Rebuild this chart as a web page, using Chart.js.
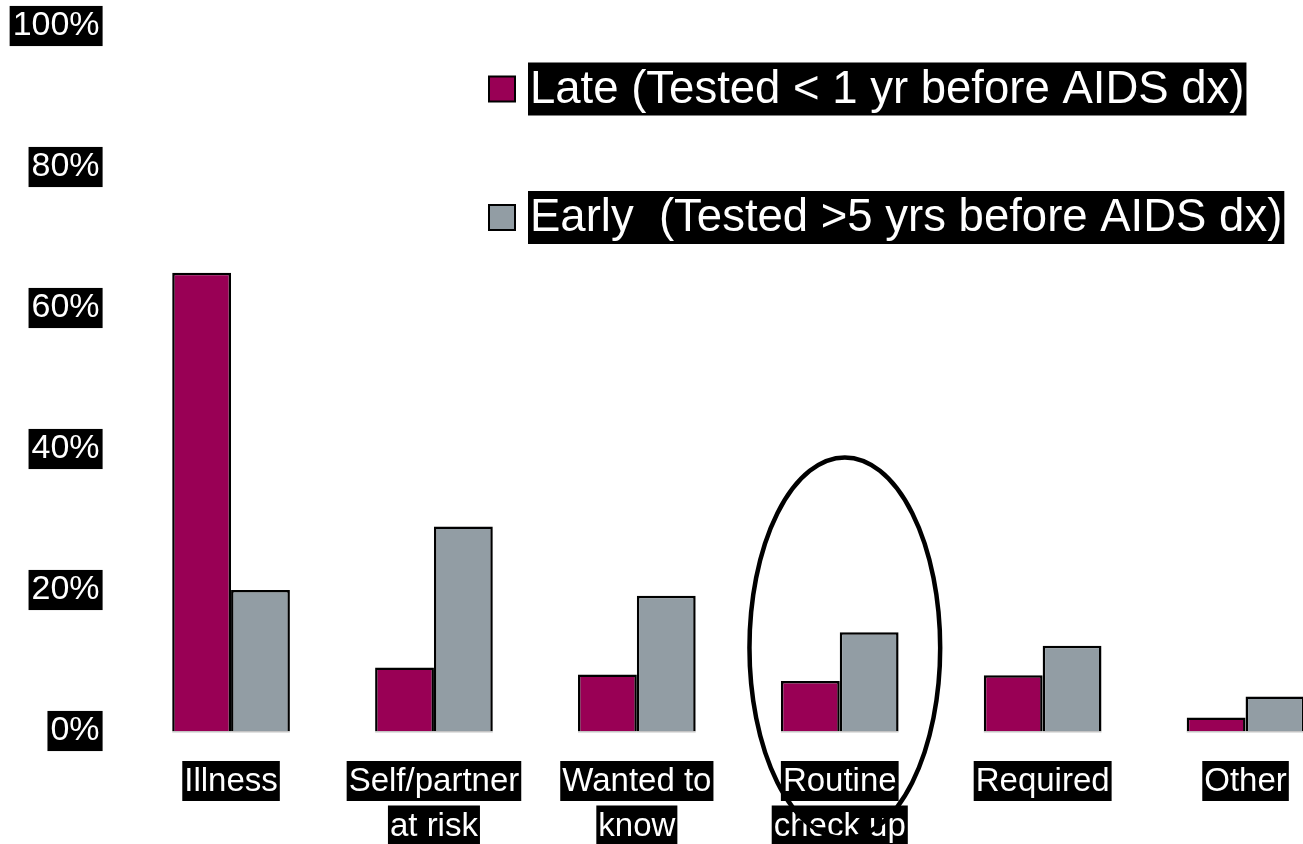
<!DOCTYPE html>
<html>
<head>
<meta charset="utf-8">
<title>Reason for HIV testing: late vs early testers</title>
<script src="https://cdn.jsdelivr.net/npm/chart.js@4/dist/chart.umd.min.js"></script>
<style>
  html, body { margin: 0; padding: 0; background: #ffffff; overflow: hidden; }
  #wrap { position: relative; width: 1303px; height: 844px; overflow: hidden; }
  #chart { position: absolute; left: 0; top: 0; }
</style>
</head>
<body>
<div id="wrap"><canvas id="chart" width="1347" height="844"></canvas></div>
<script>
// Reason given for the HIV test, by timing of the test relative to AIDS diagnosis (%)
const categories = ['Illness', 'Self/partner at risk', 'Wanted to know', 'Routine check up', 'Required', 'Other'];
const categoryLabelLines = [['Illness'], ['Self/partner', 'at risk'], ['Wanted to', 'know'], ['Routine', 'check up'], ['Required'], ['Other']];
const lateValues = [65, 9, 8, 7.1, 7.9, 1.9];
const earlyValues = [20, 29, 19.2, 14, 12.1, 4.9];
const seriesNames = ['Late (Tested < 1 yr before AIDS dx)', 'Early  (Tested >5 yrs before AIDS dx)'];
const yTickValues = [0, 20, 40, 60, 80, 100];

// Highlight ring around one category (in data units)
const highlight = { category: 'Routine check up', centerValue: 11.8, halfHeight: 27, halfWidth: 0.47, shift: 0.025 };

const FONT = "'Liberation Sans', Arial, sans-serif";
const LATE_COLOR = '#990055';
const EARLY_COLOR = '#929da4';

// Category labels, one black box per line
const categoryLabelsPlugin = {
  id: 'categoryLabels',
  afterDraw(chart) {
    const ctx = chart.ctx;
    const xs = chart.scales.x;
    const base = chart.chartArea.bottom;
    ctx.save();
    ctx.font = '33px ' + FONT;
    ctx.textAlign = 'center';
    ctx.textBaseline = 'middle';
    categoryLabelLines.forEach((lines, i) => {
      const cx = xs.getPixelForValue(i);
      lines.forEach((line, j) => {
        const cy = base + 50 + j * 44.5;
        const w = ctx.measureText(line).width + 4;
        ctx.fillStyle = '#000000';
        ctx.fillRect(cx - w / 2, cy - 20, w, 40);
        ctx.fillStyle = '#ffffff';
        ctx.fillText(line, cx, cy + 1);
      });
    });
    ctx.restore();
  }
};

// Legend with white text on black boxes
const boxedLegendPlugin = {
  id: 'boxedLegend',
  afterDraw(chart) {
    const ctx = chart.ctx;
    const rows = [89, 217.5];
    ctx.save();
    ctx.font = '45.5px ' + FONT;
    ctx.textAlign = 'left';
    ctx.textBaseline = 'middle';
    chart.data.datasets.forEach((ds, k) => {
      const cy = rows[k];
      // swatch
      ctx.fillStyle = ds.backgroundColor;
      ctx.fillRect(489, cy - 12.5, 26, 25);
      ctx.strokeStyle = '#000000';
      ctx.lineWidth = 2;
      ctx.strokeRect(489, cy - 12.5, 26, 25);
      // label
      const w = ctx.measureText(ds.label).width;
      ctx.fillStyle = '#000000';
      ctx.fillRect(528, cy - 26.5, w + 4, 53);
      ctx.fillStyle = '#ffffff';
      ctx.fillText(ds.label, 530, cy + 1);
    });
    ctx.restore();
  }
};

// Thin light baseline under each bar
const barBaselinePlugin = {
  id: 'barBaseline',
  afterDatasetsDraw(chart) {
    const ctx = chart.ctx;
    ctx.save();
    ctx.strokeStyle = '#c4c4c4';
    ctx.lineWidth = 1.5;
    chart.data.datasets.forEach((ds, k) => {
      chart.getDatasetMeta(k).data.forEach(bar => {
        const y = bar.base + 0.75;
        ctx.beginPath();
        ctx.moveTo(bar.x - bar.width / 2, y);
        ctx.lineTo(bar.x + bar.width / 2, y);
        ctx.stroke();
      });
    });
    ctx.restore();
  }
};

// Ring drawn over the highlighted category
const highlightRingPlugin = {
  id: 'highlightRing',
  afterDraw(chart) {
    const xs = chart.scales.x, ys = chart.scales.y;
    const idx = categories.indexOf(highlight.category);
    const catW = xs.getPixelForValue(1) - xs.getPixelForValue(0);
    const cx = xs.getPixelForValue(idx) + highlight.shift * catW;
    const cy = ys.getPixelForValue(highlight.centerValue);
    const ry = ys.getPixelForValue(highlight.centerValue - highlight.halfHeight) - cy;
    const rx = highlight.halfWidth * catW;
    const ctx = chart.ctx;
    ctx.save();
    ctx.strokeStyle = '#000000';
    ctx.lineWidth = 4.5;
    ctx.beginPath();
    ctx.ellipse(cx, cy, rx, ry, 0, 0, Math.PI * 2);
    ctx.stroke();
    ctx.restore();
  }
};

new Chart(document.getElementById('chart'), {
  type: 'bar',
  data: {
    labels: categories,
    datasets: [
      { label: seriesNames[0], data: lateValues, backgroundColor: LATE_COLOR, borderColor: '#000000', borderWidth: 2.5 },
      { label: seriesNames[1], data: earlyValues, backgroundColor: EARLY_COLOR, borderColor: '#000000', borderWidth: 2.5 }
    ]
  },
  options: {
    responsive: false,
    animation: false,
    devicePixelRatio: 1,
    layout: { padding: { left: 0, right: 0, top: 26, bottom: 113 } },
    datasets: { bar: { categoryPercentage: 0.58, barPercentage: 1.0 } },
    plugins: { legend: { display: false }, tooltip: { enabled: false } },
    scales: {
      x: { display: false },
      y: {
        min: 0, max: 100,
        afterBuildTicks(scale) { scale.ticks = yTickValues.map(v => ({ value: v })); },
        afterFit(scale) {
          scale.width = 129.6;
          // plot edges follow the layout padding, labels may overhang
          scale.paddingTop = 0;
          scale.paddingBottom = 0;
        },
        grid: { display: false, drawTicks: false },
        border: { display: false },
        ticks: {
          padding: 30,
          color: '#ffffff',
          font: { family: FONT, size: 34, lineHeight: 1.18 },
          showLabelBackdrop: true,
          backdropColor: '#000000',
          backdropPadding: { top: 0, bottom: 0, left: 3, right: 3 },
          callback: v => v + '%'
        }
      }
    }
  },
  plugins: [barBaselinePlugin, categoryLabelsPlugin, boxedLegendPlugin, highlightRingPlugin]
});
</script>
</body>
</html>
